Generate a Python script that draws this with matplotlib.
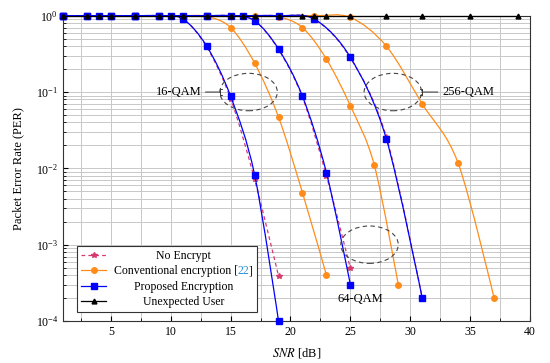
import numpy as np
import matplotlib
matplotlib.use('Agg')
import matplotlib.pyplot as plt
from matplotlib.patches import Ellipse, PathPatch
from matplotlib.path import Path
from matplotlib.lines import Line2D
from matplotlib.transforms import IdentityTransform

plt.rcParams['font.family'] = ['Liberation Serif', 'DejaVu Serif']
plt.rcParams['mathtext.fontset'] = 'stix'
plt.rcParams['font.size'] = 8

# SNR grids for each modulation
x16 = [1, 3, 5, 7, 9, 11, 13, 15, 17, 19]
x16_conv = [1, 3, 5, 7, 9, 11, 13, 15, 17, 19, 21, 23]
x64 = [1, 3, 5, 7, 9, 11, 13, 15, 17, 19, 21, 23, 25]
x64_conv = [1, 3, 5, 7, 9, 11, 13, 15, 17, 19, 21, 23, 25, 27, 29]
x256 = [1, 4, 7, 10, 13, 16, 19, 22, 25, 28, 31]
x256_conv = [1, 4, 7, 10, 13, 16, 19, 22, 25, 28, 31, 34, 37]
x_user = [1, 3, 4, 5, 7, 9, 10, 11, 13, 15, 16, 17, 19, 21, 22, 23, 25, 28, 31, 35, 39]

# PER values
noenc16 = [1, 1, 1, 1, 1, 0.91, 0.39, 0.082, 0.0072, 3.9e-4]
conv16 = [1, 1, 1, 1, 1, 1, 0.98, 0.70, 0.24, 0.047, 0.0048, 4.0e-4]
prop16 = [1, 1, 1, 1, 1, 0.91, 0.40, 0.088, 0.0083, 1.0e-4]

noenc64 = [1, 1, 1, 1, 1, 1, 1, 1, 0.86, 0.36, 0.085, 0.0080, 4.9e-4]
conv64 = [1, 1, 1, 1, 1, 1, 1, 1, 1, 0.97, 0.70, 0.27, 0.066, 0.011, 3.0e-4]
prop64 = [1, 1, 1, 1, 1, 1, 1, 1, 0.86, 0.367, 0.088, 0.0088, 3.0e-4]

noenc256 = [1, 1, 1, 1, 1, 1, 1, 0.90, 0.28, 0.026, 2.0e-4]
conv256 = [1, 1, 1, 1, 1, 1, 1, 1, 0.95, 0.40, 0.070, 0.0117, 2.0e-4]
prop256 = [1, 1, 1, 1, 1, 1, 1, 0.90, 0.285, 0.0245, 2.0e-4]

user = [1, 1, 1, 1, 1, 1, 1, 1, 1, 1, 1, 1, 1, 1, 1, 1, 1, 1, 1, 1, 1]

red = '#d63a6e'
orange = '#ff8c1a'
blue = '#0000ff'
cite = '#2b8fd0'

fig = plt.figure(figsize=(5.5, 3.63), dpi=100)
ax = fig.add_axes([0.1145, 0.1157, 0.8491, 0.841])
ax.set_yscale('log')
ax.set_xlim(1, 40)
ax.set_ylim(1e-4, 1)

# scaled space (x linear, y = log10) -> display
sc = ax.transLimits + ax.transAxes


def smooth_line(xs, ys, **kw):
    # tikz-like smooth curve through the points
    p = np.column_stack([xs, np.log10(ys)])
    t = 0.16
    verts = [p[0]]
    codes = [Path.MOVETO]
    for i in range(len(p) - 1):
        d0 = p[i + 1] - p[i - 1] if i > 0 else np.zeros(2)
        d1 = p[i + 2] - p[i] if i + 2 < len(p) else np.zeros(2)
        verts += [p[i] + t * d0, p[i + 1] - t * d1, p[i + 1]]
        codes += [Path.CURVE4] * 3
    ax.add_patch(PathPatch(Path(verts, codes), transform=sc, fill=False, clip_on=False, **kw))


def series(xs, ys, color, marker, ms, ls='-', z=3):
    smooth_line(xs, ys, ec=color, lw=0.9, ls=ls, zorder=z)
    ax.plot(xs, ys, ls='none', marker=marker, ms=ms, color=color, clip_on=False, zorder=z + 0.1)


ax.plot(x_user, user, color='black', lw=0.9, marker='^', ms=3.5, clip_on=False, zorder=5)
for xs, ys in [(x16_conv, conv16), (x64_conv, conv64), (x256_conv, conv256)]:
    series(xs, ys, orange, 'o', 4, z=3)
for xs, ys in [(x16, noenc16), (x64, noenc64), (x256, noenc256)]:
    series(xs, ys, red, '*', 4, ls=(0, (3, 2.5)), z=3.5)
for xs, ys in [(x16, prop16), (x64, prop64), (x256, prop256)]:
    series(xs, ys, blue, 's', 4, z=4)

ax.set_xticks([5, 10, 15, 20, 25, 30, 35, 40])
ax.set_xticks([2.5, 7.5, 12.5, 17.5, 22.5, 27.5, 32.5, 37.5], minor=True)
ax.grid(True, which='both', color='#c8c8c8', lw=0.7)
ax.set_axisbelow(True)
ax.tick_params(which='both', direction='in', labelsize=8.5)
ax.tick_params(which='minor', labelbottom=False)
for s in ax.spines.values():
    s.set_linewidth(0.8)
    s.set_color('#333333')

ax.set_xlabel('$SNR$ [dB]', fontsize=9, labelpad=6)
ax.set_ylabel('Packet Error Rate (PER)', fontsize=9, labelpad=8)

for cx, cy in [(16.5, -1.0), (28.55, -1.0), (26.6, -3.0)]:
    ax.add_patch(Ellipse((cx, cy), 4.8, 0.49, transform=sc, fill=False,
                         ec='#444444', lw=0.8, ls=(0, (4, 3)), zorder=6))

ax.annotate('16-QAM', xy=(14.1, 0.1), xytext=(12.55, 0.1), ha='right', va='center',
            fontsize=9, arrowprops=dict(arrowstyle='-[, widthB=0.25, lengthB=0.15',
                                        color='#333333', lw=0.7, shrinkA=1, shrinkB=0))
ax.annotate('256-QAM', xy=(30.95, 0.1), xytext=(32.65, 0.1), ha='left', va='center',
            fontsize=9, arrowprops=dict(arrowstyle='-[, widthB=0.25, lengthB=0.15',
                                        color='#333333', lw=0.7, shrinkA=1, shrinkB=0))
ax.text(25.8, 1.95e-4, '64-QAM', ha='center', va='center', fontsize=9)

handles = [
    Line2D([], [], color=red, lw=0.9, ls=(0, (3, 2.5)), marker='*', ms=4),
    Line2D([], [], color=orange, lw=0.9, marker='o', ms=4),
    Line2D([], [], color=blue, lw=0.9, marker='s', ms=4),
    Line2D([], [], color='black', lw=0.9, marker='^', ms=3.5),
]
labels = ['No Encrypt', 'Conventional encryption [22]', 'Proposed Encryption', 'Unexpected User']
leg = ax.legend(handles, labels, loc='lower left', bbox_to_anchor=(0.03, 0.03), borderaxespad=0,
                fancybox=False, framealpha=1, edgecolor='#333333', fontsize=8.5,
                handlelength=2.2, labelspacing=0.3, borderpad=0.3, handletextpad=0.6)
leg.get_frame().set_linewidth(0.8)
leg.set_zorder(10)

# centre the legend entries
fig.canvas.draw()
r = fig.canvas.get_renderer()
texts = leg.get_texts()
widths = [t.get_window_extent(r).width for t in texts]
for t, w in zip(texts, widths):
    t.set_x((max(widths) - w) / 2)
fig.canvas.draw()

# redraw the citation label in pieces so the number can be coloured
ct = texts[1]
x0 = ct.get_window_extent(r).x0
y0 = ct.get_transform().transform(ct.get_position())[1]
ct.set_alpha(0)
for piece, col in [('Conventional encryption [', 'black'), ('22', cite), (']', 'black')]:
    tt = fig.text(x0, y0, piece, transform=IdentityTransform(), ha='left', va=ct.get_va(),
                  fontproperties=ct.get_fontproperties(), color=col, zorder=20)
    x0 += tt.get_window_extent(r).width - (1 if piece == '22' else 0)

fig.savefig('out.png', dpi=100)
